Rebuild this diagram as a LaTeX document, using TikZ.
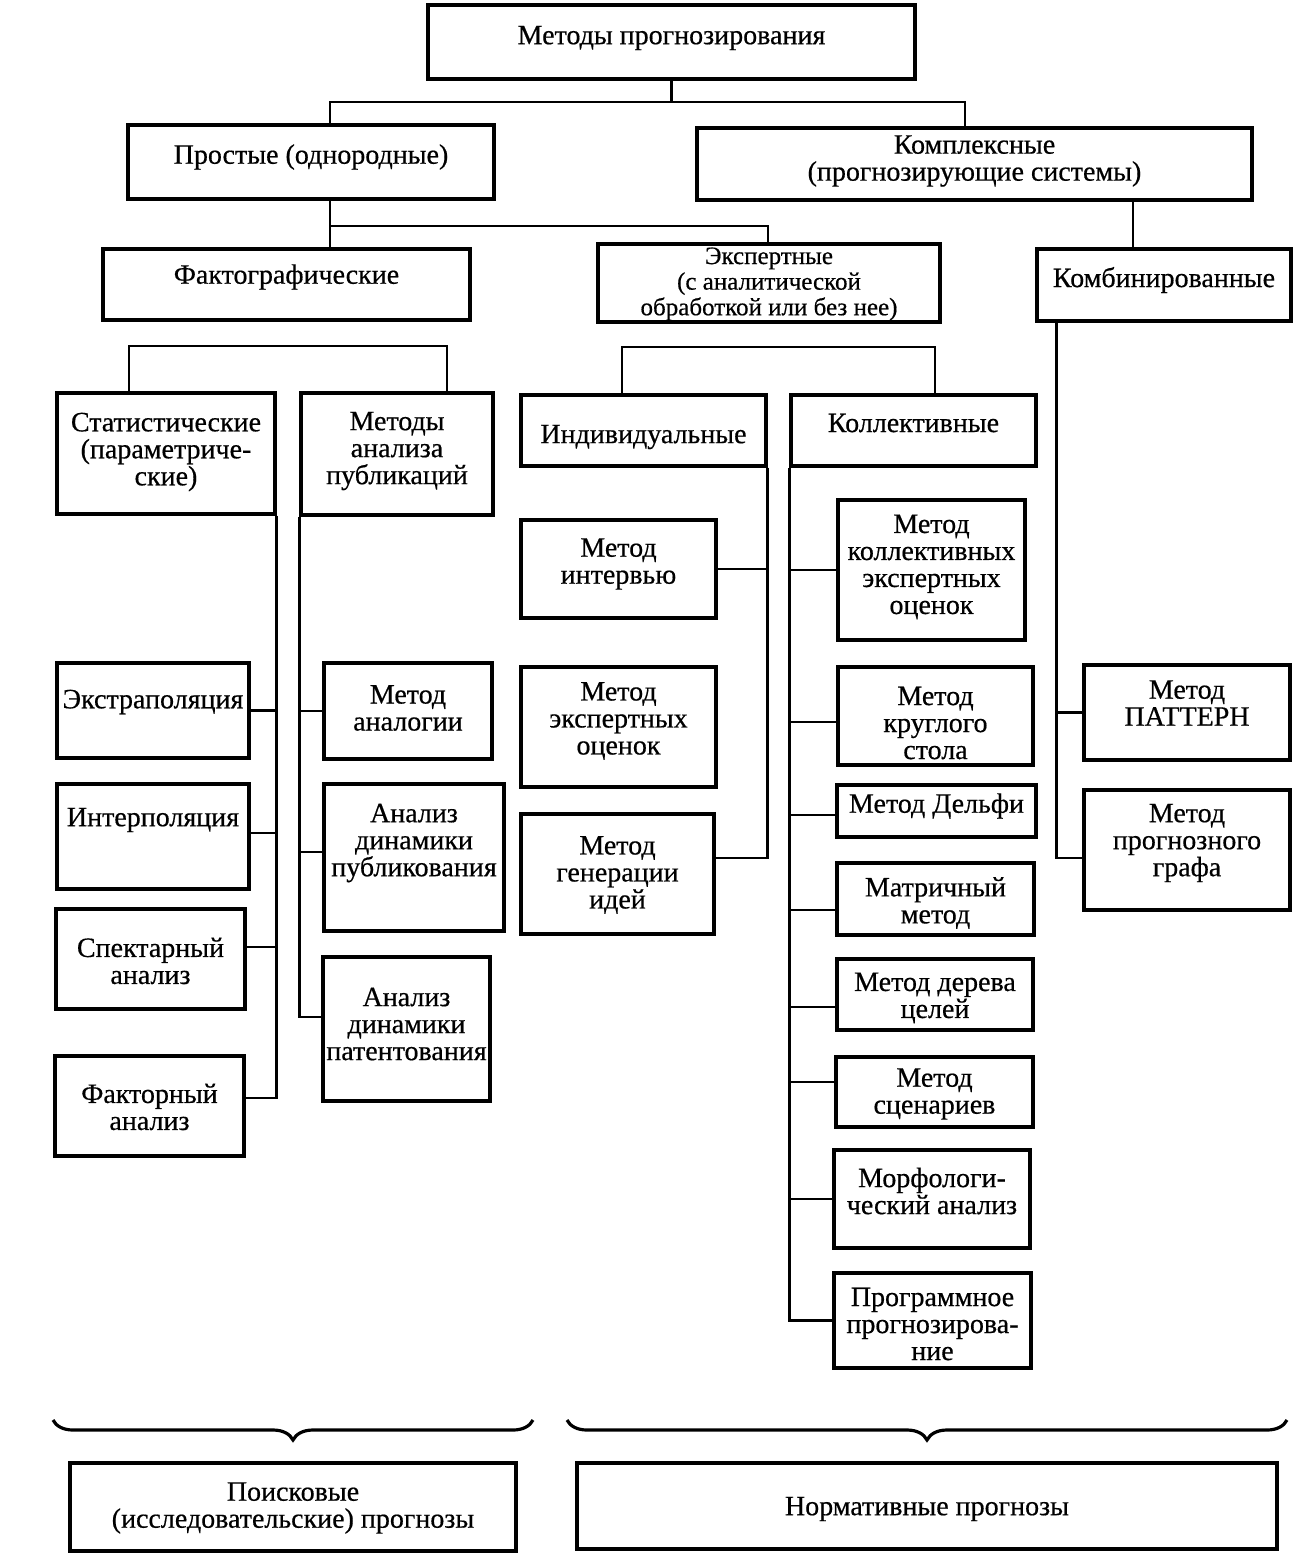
\documentclass[tikz,border=0pt]{standalone}
\usepackage{fontspec}
\setmainfont{Liberation Serif}
\newfontfamily\heavyserif{Liberation Serif}[FakeBold=0.5]
\usetikzlibrary{decorations.pathreplacing}
\setlength\lineskiplimit{-20pt}
\newcommand\bx[7]{%
  \node[box,minimum width={((#4)-(#2))*0.5},minimum height={((#5)-(#3))*0.5}] (#1) at ({((#2)+(#4))/2},{((#3)+(#5))/2}) {};
  \node[txt] (#1t) at ({((#2)+(#4))/2},#6) {#7};}
\begin{document}
\begin{tikzpicture}[x=0.5pt,y=-0.5pt,
  box/.style={draw,line width=1.7pt,inner sep=0pt,rectangle},
  txt/.style={align=center,inner sep=0pt,font=\heavyserif\fontsize{14}{13.5}\selectfont},
  txtsmall/.style={txt,font=\heavyserif\fontsize{12.5}{12.8}\selectfont},
  con/.style={line width=1.4pt},
  brc/.style={decorate,decoration={brace,mirror,amplitude=10pt},line width=1.6pt}]
\useasboundingbox (0,0) rectangle (1293,1560);
\fill[white] (0,0) rectangle (1293,1560);

\bx{top}{428}{5}{915}{79}{38}{Методы прогнозирования}
\bx{simple}{128}{125}{494}{199}{157}{Простые (однородные)}
\bx{complex}{697}{128}{1252}{200}{161}{Комплексные\\(прогнозирующие системы)}
\bx{fact}{103}{249}{470}{320}{277}{Фактографические}
\node[box,minimum width=171pt,minimum height=39pt] (expert) at (769,283) {};
\node[txtsmall] (expertt) at (769,284) {Экспертные\\(с аналитической\\обработкой или без нее)};
\bx{comb}{1037}{249}{1291}{321}{280}{Комбинированные}
\bx{stat}{57}{393}{275}{514}{452}{Статистические\\(параметриче-\\ские)}
\bx{pub}{301}{393}{493}{515}{451}{Методы\\анализа\\публикаций}
\bx{indiv}{521}{395}{766}{466}{437}{Индивидуальные}
\bx{coll}{791}{395}{1036}{466}{423}{Коллективные}
\bx{interv}{521}{520}{716}{618}{564}{Метод\\интервью}
\bx{expev}{521}{667}{716}{787}{721}{Метод\\экспертных\\оценок}
\bx{gen}{521}{814}{714}{934}{875}{Метод\\генерации\\идей}
\bx{kolexp}{838}{500}{1025}{640}{567}{Метод\\коллективных\\экспертных\\оценок}
\bx{krug}{838}{667}{1033}{765}{723}{Метод\\круглого\\стола}
\bx{delfi}{837}{785}{1036}{837}{806}{Метод Дельфи}
\bx{matr}{837}{863}{1034}{935}{903}{Матричный\\метод}
\bx{derevo}{837}{959}{1033}{1030}{998}{Метод дерева\\целей}
\bx{scen}{836}{1057}{1033}{1127}{1094}{Метод\\сценариев}
\bx{morph}{834}{1150}{1030}{1248}{1191}{Морфологи-\\ческий анализ}
\bx{prog}{834}{1273}{1031}{1368}{1324}{Программное\\прогнозирова-\\ние}
\bx{extra}{57}{663}{249}{758}{702}{Экстраполяция}
\bx{interp}{57}{784}{249}{889}{820}{Интерполяция}
\bx{spec}{56}{909}{245}{1009}{961}{Спектарный\\анализ}
\bx{fakt}{55}{1056}{244}{1156}{1107}{Факторный\\анализ}
\bx{analog}{324}{663}{492}{759}{708}{Метод\\аналогии}
\bx{publ}{324}{784}{504}{931}{843}{Анализ\\динамики\\публикования}
\bx{patent}{323}{957}{490}{1101}{1024}{Анализ\\динамики\\патентования}
\bx{pattern}{1084}{665}{1290}{760}{703}{Метод\\ПАТТЕРН}
\bx{graf}{1084}{790}{1290}{910}{843}{Метод\\прогнозного\\графа}
\bx{search}{70}{1463}{516}{1551}{1508}{Поисковые\\(исследовательские) прогнозы}
\bx{norm}{577}{1463}{1277}{1549}{1509}{Нормативные прогнозы}

% upper levels
\coordinate (a1) at (330,102); \coordinate (a2) at (965,102);
\draw[con] (top.south) -- (top.south |- a1);
\draw[con] (a1 |- simple.north) -- (a1) -- (a2) -- (a2 |- complex.north);
\coordinate (b1) at (330,226); \coordinate (b2) at (768,226);
\draw[con] (b1 |- simple.south) -- (b1) -- (b2) -- (b2 |- expert.north);
\draw[con] (b1) -- (b1 |- fact.north);
\coordinate (c1) at (1133,225);
\draw[con] (c1 |- complex.south) -- (c1 |- comb.north);
\coordinate (d1) at (129,346); \coordinate (d2) at (447,346);
\draw[con] (d1 |- stat.north) -- (d1) -- (d2) -- (d2 |- pub.north);
\coordinate (e1) at (622,347); \coordinate (e2) at (935,347);
\draw[con] (e1 |- indiv.north) -- (e1) -- (e2) -- (e2 |- coll.north);

% statistical
\coordinate (extraB) at (extra.east);
\coordinate (interpB) at ([yshift=1.75pt]interp.east);
\coordinate (specB) at ([yshift=6pt]spec.east);
\coordinate (faktB) at ([yshift=4pt]fakt.east);
\draw[con] (stat.south east) -- (stat.south east |- faktB) -- (faktB);
\draw[con] (extraB) -- (extraB -| stat.east);
\draw[con] (interpB) -- (interpB -| stat.east);
\draw[con] (specB) -- (specB -| stat.east);

% publications
\coordinate (analogB) at (analog.west);
\coordinate (publB) at ([yshift=2.75pt]publ.west);
\coordinate (patentB) at ([yshift=6pt]patent.west);
\draw[con] (pub.south west) -- (pub.south west |- patentB) -- (patentB);
\draw[con] (analogB) -- (analogB -| pub.west);
\draw[con] (publB) -- (publB -| pub.west);

% individual
\coordinate (intervB) at (interv.east);
\coordinate (genB) at ([yshift=8pt]gen.east);
\draw[con] (indiv.south east) -- (indiv.south east |- genB) -- (genB);
\draw[con] (intervB) -- (intervB -| indiv.east);

% collective
\coordinate (kolexpB) at (kolexp.west);
\coordinate (krugB) at ([yshift=-3pt]krug.west);
\coordinate (delfiB) at ([yshift=-2pt]delfi.west);
\coordinate (matrB) at ([yshift=-5.5pt]matr.west);
\coordinate (derevoB) at ([yshift=-6.25pt]derevo.west);
\coordinate (scenB) at ([yshift=5pt]scen.west);
\coordinate (morphB) at (morph.west);
\coordinate (progB) at (prog.west);
\draw[con] (coll.south west) -- (coll.south west |- progB) -- (progB);
\foreach \n in {kolexpB,krugB,delfiB,matrB,derevoB,scenB,morphB}
  \draw[con] (\n) -- (\n -| coll.west);

% combined
\coordinate (combT) at ([xshift=10.5pt]comb.south west);
\coordinate (patternB) at (pattern.west);
\coordinate (grafB) at ([yshift=-4pt]graf.west);
\draw[con] (combT) -- (combT |- grafB) -- (grafB);
\draw[con] (patternB) -- (patternB -| combT);

% braces
\coordinate (bl1) at (53,1420); \coordinate (bl2) at (533,1420);
\coordinate (br1) at (567,1420); \coordinate (br2) at (1287,1420);
\draw[brc] (bl1) -- (bl2);
\draw[brc] (br1) -- (br2);
\end{tikzpicture}
\end{document}
